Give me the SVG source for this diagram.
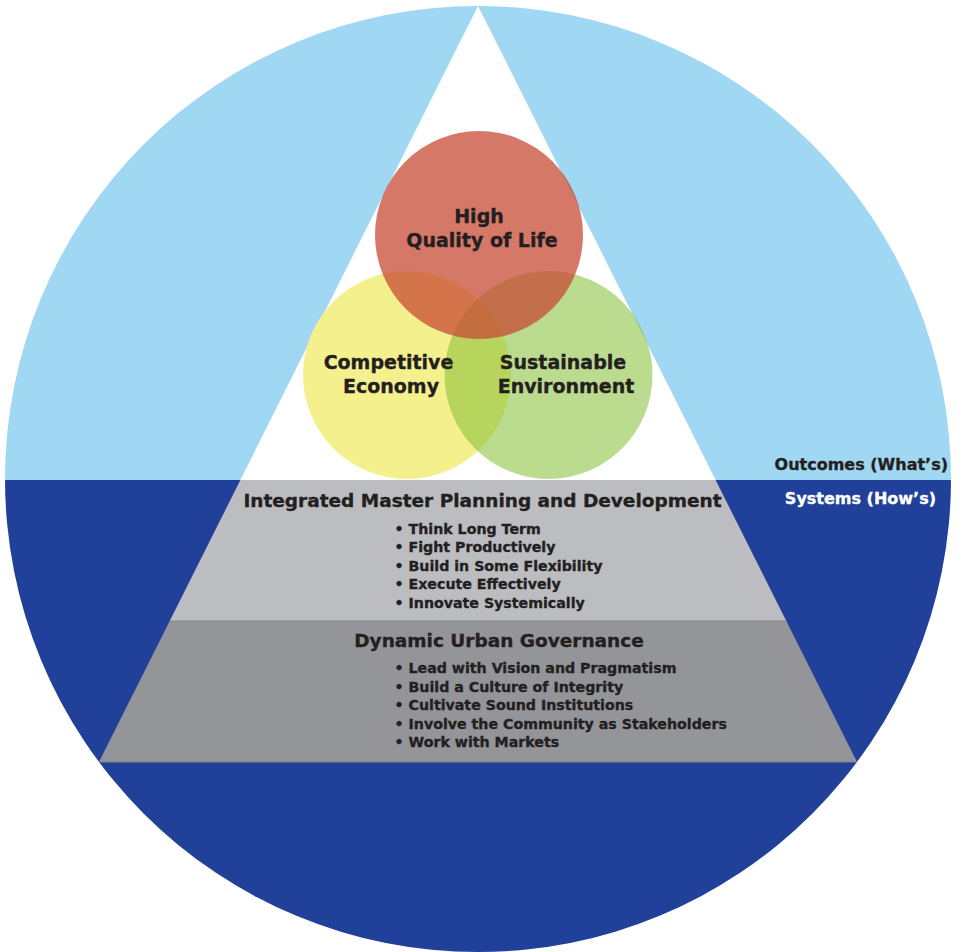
<svg xmlns="http://www.w3.org/2000/svg" width="959" height="952" viewBox="0 0 959 952">
<defs>
<clipPath id="disc"><circle cx="478" cy="479" r="473"/></clipPath>
<style>
.t{font-family:"DejaVu Sans","Verdana",sans-serif;font-weight:bold;fill:#231f20;stroke:#231f20;stroke-width:0.35px}
.w{fill:#ffffff;stroke:#ffffff}
.big{font-size:19px;text-anchor:middle}
.head{font-size:18.5px;text-anchor:middle}
.item{font-size:14.2px}
.side{font-size:16px;text-anchor:end}
</style>
</defs>
<rect width="959" height="952" fill="#ffffff"/>
<g id="background" clip-path="url(#disc)">
<rect x="0" y="0" width="959" height="480" fill="#a0d8f4"/>
<rect x="0" y="480" width="959" height="480" fill="#21409a"/>
</g>
<g id="pyramid">
<polygon points="478,6 240.4,480 715.6,480" fill="#ffffff"/>
<polygon points="240.4,480 715.6,480 786.3,621 169.7,621" fill="#bcbdc0"/>
<polygon points="169.7,621 786.3,621 857,762 99,762" fill="#939598"/>
<line x1="169.7" y1="621" x2="786.3" y2="621" stroke="#86888b" stroke-width="1"/>
<line x1="99" y1="762" x2="857" y2="762" stroke="#7d8396" stroke-width="1"/>
</g>
<g id="venn">
<circle id="economy" cx="407" cy="375" r="104" fill="#f5f08e"/>
<circle id="environment" cx="548.5" cy="375" r="104" fill="#85be35" fill-opacity="0.56"/>
<circle id="quality" cx="479" cy="235" r="104" fill="#c84933" fill-opacity="0.74"/>
</g>
<g id="labels-venn">
<text class="t big" x="479" y="223">High</text>
<text class="t big" x="482" y="247">Quality of Life</text>
<text class="t big" x="388.5" y="369">Competitive</text>
<text class="t big" x="391" y="393">Economy</text>
<text class="t big" x="563" y="369">Sustainable</text>
<text class="t big" x="566" y="393">Environment</text>
</g>
<g id="side-labels">
<text class="t side" x="948" y="470">Outcomes (What’s)</text>
<text class="t w side" x="936" y="504">Systems (How’s)</text>
</g>
<g id="planning">
<text class="t head" x="482.5" y="507">Integrated Master Planning and Development</text>
<text class="t item" x="394.5" y="533.5">• Think Long Term</text>
<text class="t item" x="394.5" y="552">• Fight Productively</text>
<text class="t item" x="394.5" y="570.5">• Build in Some Flexibility</text>
<text class="t item" x="394.5" y="589">• Execute Effectively</text>
<text class="t item" x="394.5" y="607.5">• Innovate Systemically</text>
</g>
<g id="governance">
<text class="t head" x="499" y="647">Dynamic Urban Governance</text>
<text class="t item" x="394.5" y="673">• Lead with Vision and Pragmatism</text>
<text class="t item" x="394.5" y="691.5">• Build a Culture of Integrity</text>
<text class="t item" x="394.5" y="710">• Cultivate Sound Institutions</text>
<text class="t item" x="394.5" y="728.5">• Involve the Community as Stakeholders</text>
<text class="t item" x="394.5" y="747">• Work with Markets</text>
</g>
</svg>
